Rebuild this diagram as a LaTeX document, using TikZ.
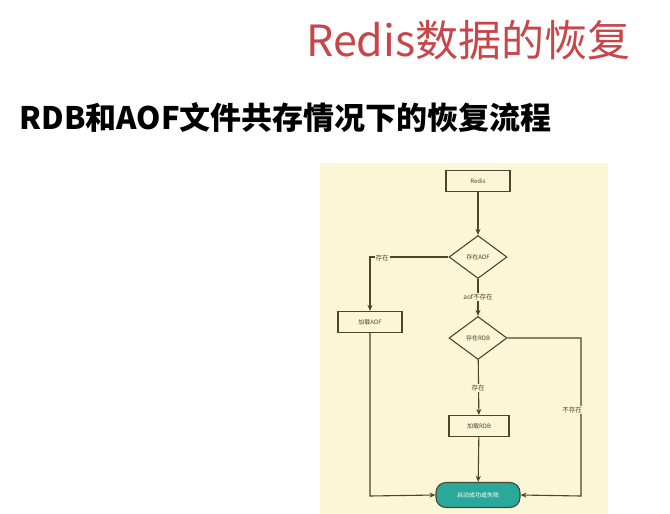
\documentclass[tikz,border=0pt]{standalone}
\usepackage{fontspec}
\setmainfont{Noto Sans CJK SC}
\usetikzlibrary{shapes.geometric,arrows.meta}
\definecolor{bgy}{HTML}{FBF7D6}
\definecolor{ln}{HTML}{4A4630}
\definecolor{teal}{HTML}{2AA89A}
\definecolor{ttl}{HTML}{C8464A}
\tikzset{
 box/.style={draw=ln,line width=1.1pt,fill=bgy,minimum width=64pt,minimum height=21pt,inner sep=0pt,font=\fontsize{6}{7}\selectfont,text=ln},
 dia/.style={diamond,draw=ln,line width=1.1pt,fill=bgy,minimum width=58pt,minimum height=43pt,inner sep=0pt,aspect=1.35,font=\fontsize{6}{7}\selectfont,text=ln},
 con/.style={draw=ln,line width=1.1pt,-{Stealth[length=6pt,width=5pt]}},
 lbl/.style={font=\fontsize{6.5}{7}\selectfont,text=ln,fill=bgy,inner sep=1pt}
}
\begin{document}
\begin{tikzpicture}[x=1pt,y=-1pt]
\useasboundingbox (0,0) rectangle (670,514);
\fill[white] (0,0) rectangle (670,514);
\fill[bgy] (320,163) rectangle (608,514);
\node[anchor=east,text=ttl,font=\fontsize{43}{48}\selectfont] (t) at (634,40) {Redis数据的恢复};
\node[anchor=west,font=\bfseries\fontsize{31}{34}\selectfont] (s) at (16,118) {RDB和AOF文件共存情况下的恢复流程};
\node[box] (r) at (478,181) {Redis};
\node[dia] (d1) at (478,257) {存在AOF};
\node[box] (aof) at (370,322) {加载AOF};
\node[dia] (d2) at (478,338) {存在RDB};
\node[box,minimum width=60pt] (rdb) at (479,426) {加载RDB};
\node[draw=ln,line width=1.1pt,fill=teal,rounded corners=10pt,minimum width=84pt,minimum height=25pt,font=\fontsize{6}{7}\selectfont,text=white] (e) at (478,495) {启动成功或失败};
\coordinate (c1) at (370,257);
\coordinate (c2) at (581,338);
\coordinate (c3) at (370,496);
\coordinate (c4) at (581,496);
\draw[con] (r) -- (d1);
\draw[con] (d1) -- (c1) -- (aof);
\node[lbl] (l1) at (382,258) {存在};
\draw[con] (d1) -- (d2);
\node[lbl] (l2) at (478,297) {aof不存在};
\draw[con] (d2) -- (rdb);
\node[lbl] (l3) at (478,388) {存在};
\draw[con] (d2) -- (c2) -- (c4) -- (e.east);
\node[lbl] (l4) at (572,410) {不存在};
\draw[con] (rdb) -- (e);
\draw[con] (aof) -- (c3) -- (e.west);
\end{tikzpicture}
\end{document}
